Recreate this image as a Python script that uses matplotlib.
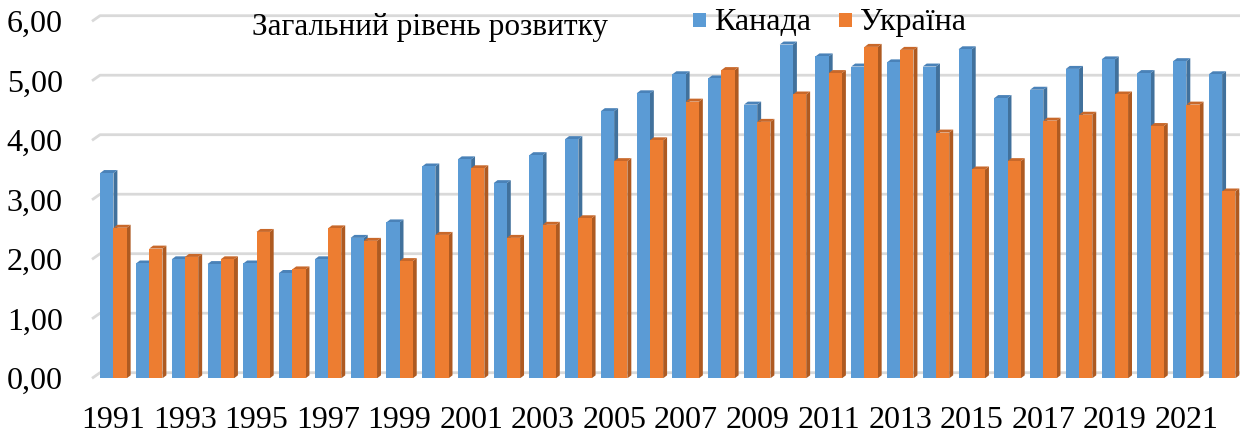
import matplotlib
matplotlib.use("Agg")
import matplotlib.pyplot as plt
from matplotlib.patches import Polygon, Rectangle

years = list(range(1991, 2023))
canada = [3.45, 1.93, 2.00, 1.92, 1.93, 1.77, 2.00, 2.36, 2.62, 3.56,
          3.68, 3.28, 3.75, 4.02, 4.49, 4.79, 5.11, 5.04, 4.60, 5.61,
          5.41, 5.24, 5.31, 5.24, 5.53, 4.71, 4.85, 5.20, 5.36, 5.13,
          5.33, 5.11]
ukraine = [2.53, 2.18, 2.04, 2.00, 2.46, 1.83, 2.52, 2.31, 1.97, 2.41,
           3.53, 2.36, 2.58, 2.69, 3.65, 4.00, 4.65, 5.18, 4.31, 4.77,
           5.13, 5.57, 5.52, 4.13, 3.51, 3.65, 4.33, 4.43, 4.77, 4.24,
           4.60, 3.14]
series_names = ["Канада", "Україна"]
yticks = [0, 1, 2, 3, 4, 5, 6]
ytick_labels = ["0,00", "1,00", "2,00", "3,00", "4,00", "5,00", "6,00"]

plt.rcParams['font.family'] = ['Liberation Serif', 'DejaVu Serif']

W, H = 1247, 433
fig = plt.figure(figsize=(W / 100, H / 100), dpi=100)
left_px, right_px, bottom_px, top_px = 92, 1240, 378.3, 21.3
ax = fig.add_axes([left_px / W, 1 - bottom_px / H,
                   (right_px - left_px) / W, (bottom_px - top_px) / H])

xmin, xmax = -0.60, 31.5
ax.set_xlim(xmin, xmax)
ax.set_ylim(0, 6)

# fake 3d look: depth offsets in data units
dx, dy = 0.11, 0.05
wall_dx, wall_dy = 0.224, 0.094
w = 0.37

# gridlines sit on the back wall
for v in yticks:
    ax.plot([xmin, xmin + wall_dx, xmax], [v, v + wall_dy, v + wall_dy],
            color="#d9d9d9", lw=2, zorder=0, clip_on=False,
            solid_capstyle="butt")

colors = {
    "c": ("#5b9bd5", "#41719c", "#4a82b8"),
    "u": ("#ed7d31", "#ae5a21", "#c8682a"),
}

def bar3d(x, v, cols, z):
    front, side, top = cols
    ax.add_patch(Polygon([(x + w, 0), (x + w + dx, dy), (x + w + dx, v + dy), (x + w, v)],
                         closed=True, fc=side, ec="none", zorder=z))
    ax.add_patch(Polygon([(x, v), (x + dx, v + dy), (x + w + dx, v + dy), (x + w, v)],
                         closed=True, fc=top, ec="none", zorder=z))
    ax.add_patch(Rectangle((x, 0), w, v, fc=front, ec="none", zorder=z))

for i, (c, u) in enumerate(zip(canada, ukraine)):
    bar3d(i - w, c, colors["c"], 2 + i * 2)
    bar3d(i, u, colors["u"], 3 + i * 2)

for s in ax.spines.values():
    s.set_visible(False)
ax.set_yticks(yticks)
ax.set_yticklabels(ytick_labels)
ax.set_xticks(range(0, len(years), 2))
ax.set_xticklabels([str(y) for y in years[::2]])
ax.tick_params(axis="both", length=0, labelsize=23, colors="black")
ax.tick_params(axis="y", pad=21)
ax.tick_params(axis="x", pad=20)

fig.text(252 / W, 1 - 35 / H, "Загальний рівень розвитку", fontsize=22.5,
         ha="left", va="baseline")

# legend drawn by hand so the squares land where the reference has them
for name, key, sq_x, tx in [(series_names[0], "c", 693, 714),
                            (series_names[1], "u", 839, 860)]:
    fig.patches.append(Rectangle((sq_x / W, 1 - 27 / H), 13 / W, 14 / H,
                                 fc=colors[key][0], ec="none",
                                 transform=fig.transFigure, figure=fig))
    fig.text(tx / W, 1 - 30 / H, name, fontsize=23, ha="left", va="baseline")

fig.savefig("out.png", dpi=100, facecolor="white")
